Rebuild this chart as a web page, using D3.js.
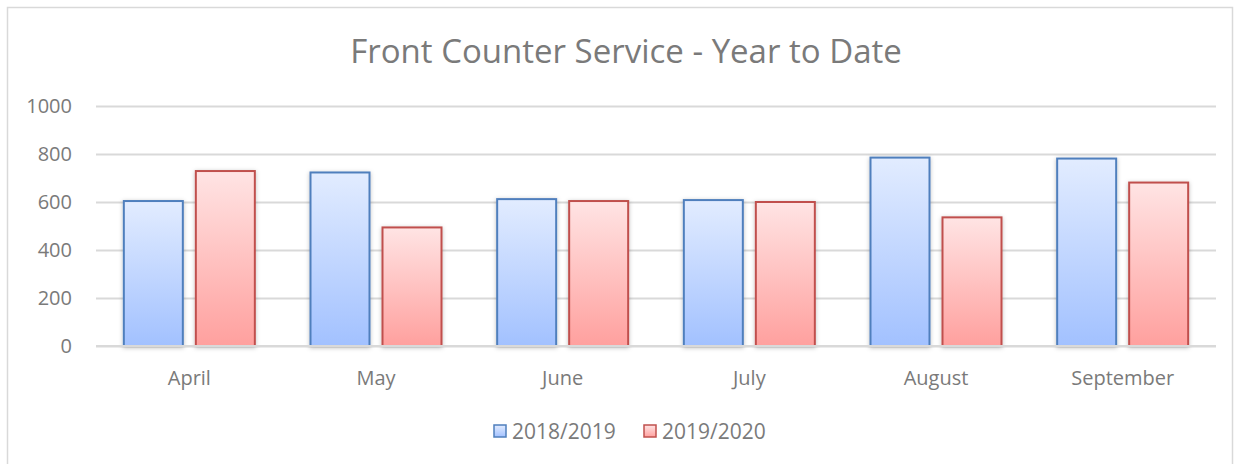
<!DOCTYPE html>
<html><head><meta charset="utf-8">
<script src="https://cdn.jsdelivr.net/npm/d3@7"></script>
<style>body{margin:0;background:#fff}svg{display:block}text{font-family:"Open Sans",sans-serif}</style>
</head><body>
<script>
const categories = ["April","May","June","July","August","September"];
const seriesNames = ["2018/2019","2019/2020"];
const values2018 = [604,723,612,608,785,781];
const values2019 = [729,494,604,600,536,681];
const yTicks = [0,200,400,600,800,1000];
const title = "Front Counter Service - Year to Date";

(function(){
const W=1244,H=464;
const txt="#7a7a7a";
const svg=d3.select("body").append("svg").attr("width",W).attr("height",H);
const defs=svg.append("defs");
const grads=[["gBlue","#e2ecff","#a2c1ff"],["gRed","#ffe4e4","#ffa09e"]];
grads.forEach(([id,c1,c2])=>{
  const g=defs.append("linearGradient").attr("id",id).attr("x1",0).attr("y1",0).attr("x2",0).attr("y2",1);
  g.append("stop").attr("offset","0%").attr("stop-color",c1);
  g.append("stop").attr("offset","100%").attr("stop-color",c2);
});
const f=defs.append("filter").attr("id","sh").attr("x","-20%").attr("y","-10%").attr("width","140%").attr("height","120%");
f.append("feDropShadow").attr("dx",0).attr("dy",1).attr("stdDeviation",2).attr("flood-color","#000").attr("flood-opacity",0.25);

svg.append("rect").attr("x",7.5).attr("y",7.5).attr("width",1225).attr("height",470).attr("fill","#fff").attr("stroke","#d9d9d9").attr("stroke-width",1.5);

const pLeft=96,pRight=1216,pTop=106,pBottom=346;
const x=d3.scaleBand().domain(categories).range([pLeft,pRight]);
const y=d3.scaleLinear().domain([0,1000]).range([pBottom,pTop]);
const colors=[{fill:"url(#gBlue)",stroke:"#4f7fbd"},{fill:"url(#gRed)",stroke:"#c0504d"}];

svg.append("text").attr("x",626).attr("y",63).attr("text-anchor","middle").attr("font-size",33).attr("fill",txt).text(title);

const ga=svg.append("g").attr("transform",`translate(${pLeft},0)`)
  .call(d3.axisLeft(y).tickValues(yTicks).tickFormat(d3.format("d")).tickSize(-(pRight-pLeft)).tickPadding(24));
ga.select(".domain").remove();
ga.selectAll(".tick line").attr("stroke","#d9d9d9").attr("stroke-width",2);
ga.selectAll(".tick text").attr("font-size",20).attr("fill",txt).attr("font-family","'Open Sans',sans-serif");

const series=[values2018,values2019];
const bw=59, gap=13;
series.forEach((vals,si)=>{
  svg.append("g").selectAll("rect").data(vals).join("rect")
    .attr("x",(d,i)=>x(categories[i])+x.bandwidth()/2+(si===0?-(bw+gap/2):gap/2))
    .attr("y",d=>y(d)).attr("width",bw).attr("height",d=>pBottom-y(d))
    .attr("fill",colors[si].fill).attr("stroke",colors[si].stroke).attr("stroke-width",2)
    .attr("filter","url(#sh)");
});
svg.append("line").attr("x1",pLeft).attr("x2",pRight).attr("y1",pBottom).attr("y2",pBottom).attr("stroke","#d9d9d9").attr("stroke-width",2);

const gx=svg.append("g").attr("transform",`translate(0,${pBottom})`).call(d3.axisBottom(x).tickSize(0).tickPadding(25));
gx.select(".domain").remove();
gx.selectAll(".tick text").attr("font-size",20).attr("fill",txt).attr("font-family","'Open Sans',sans-serif");

const legX=[494,644];
seriesNames.forEach((n,i)=>{
  const g=svg.append("g").attr("transform",`translate(${legX[i]},425)`);
  g.append("rect").attr("width",12).attr("height",12).attr("fill",colors[i].fill).attr("stroke",colors[i].stroke).attr("stroke-width",1.5);
  g.append("text").attr("x",18).attr("y",14).attr("font-size",21).attr("fill",txt).text(n);
});
})();
</script>
</body></html>
